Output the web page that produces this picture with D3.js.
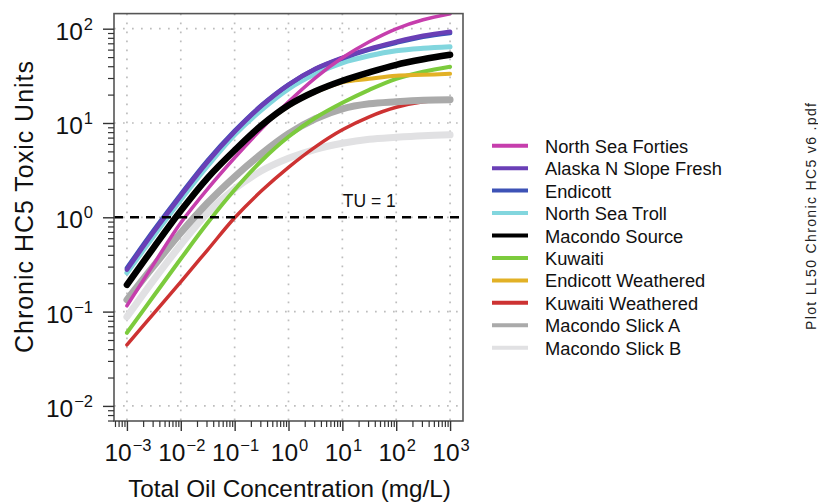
<!DOCTYPE html>
<html>
<head>
<meta charset="utf-8">
<script src="https://cdn.jsdelivr.net/npm/d3@7"></script>
<style>
  html, body { margin: 0; padding: 0; background: #fff; }
  svg { display: block; font-family: "Liberation Sans", Arial, Helvetica, sans-serif; }
</style>
</head>
<body>
<svg id="chart" width="818" height="504"></svg>
<script>
// ---------- data ----------
const conc = [0.001, 0.00316, 0.01, 0.0316, 0.1, 0.316, 1, 3.16, 10, 31.6, 100, 316, 1000];

const seriesNames = ["North Sea Forties", "Alaska N Slope Fresh", "Endicott", "North Sea Troll",
  "Macondo Source", "Kuwaiti", "Endicott Weathered", "Kuwaiti Weathered", "Macondo Slick A", "Macondo Slick B"];

const northSeaForties   = [0.1152, 0.321, 0.874, 2.006, 4.28, 8.68, 16.78, 30.15, 49.1, 72.6, 99.7, 124.3, 143.9];
const alaskaNSlopeFresh = [0.278, 0.702, 1.69, 3.88, 8.07, 15.22, 25.42, 37.56, 49.13, 61.2, 72.6, 84.1, 92.7];
const endicott          = [0.29, 0.73, 1.75, 4.0, 8.25, 15.4, 25.5, 37.3, 48.5, 60.0, 71.0, 82.0, 90.0];
const northSeaTroll     = [0.258, 0.637, 1.535, 3.52, 7.5, 13.8, 23.05, 33.25, 43.5, 51.6, 58.3, 62.0, 64.3];
const macondoSource     = [0.1924, 0.4807, 1.172, 2.623, 5.135, 9.45, 15.41, 21.69, 28.03, 34.48, 41.42, 47.37, 52.88];
const kuwaiti           = [0.0596, 0.1471, 0.363, 0.874, 1.957, 3.973, 7.14, 11.35, 16.38, 22.49, 29.42, 34.9, 39.45];
const endicottWeathered = [0.1877, 0.469, 1.144, 2.56, 5.01, 9.23, 15.03, 21.17, 27.02, 29.4, 31.67, 32.45, 33.25];
const kuwaitiWeathered  = [0.04446, 0.0959, 0.207, 0.452, 0.988, 1.91, 3.39, 5.59, 8.47, 11.63, 14.67, 16.78, 17.62];
const macondoSlickA     = [0.1334, 0.306, 0.685, 1.425, 2.689, 4.715, 7.685, 11.08, 14.15, 15.98, 16.78, 17.4, 17.62];
const macondoSlickB     = [0.0881, 0.2174, 0.511, 1.116, 2.006, 3.112, 4.224, 5.26, 6.09, 6.72, 7.05, 7.32, 7.5];

const seriesValues = [northSeaForties, alaskaNSlopeFresh, endicott, northSeaTroll, macondoSource,
  kuwaiti, endicottWeathered, kuwaitiWeathered, macondoSlickA, macondoSlickB];

const xTickExps = [-3, -2, -1, 0, 1, 2, 3];
const yTickExps = [-2, -1, 0, 1, 2];
const tuLevel = 1;
const tuLabel = "TU = 1";
const xTitle = "Total Oil Concentration (mg/L)";
const yTitle = "Chronic HC5 Toxic Units";
const sideNote = "Plot  LL50  Chronic  HC5  v6  .pdf";

// ---------- styles ----------
const colors = ["#c63ead", "#6a3fb6", "#3d52b6", "#82d6de", "#000000",
  "#7ccb3d", "#e2b126", "#cd3232", "#aaaaaa", "#e1e1e3"];
const widths = [3.5, 4.5, 4.5, 5, 6.5, 4, 4, 3.5, 7, 7];
const drawOrder = [9, 7, 8, 5, 6, 3, 2, 1, 0, 4];

// ---------- layout ----------
const L = 114, R = 463, T = 13.6, B = 421;
const svg = d3.select("#chart");

const x = d3.scaleLog().domain([Math.pow(10, -3.24), Math.pow(10, 3.24)]).range([L, R]);
const y = d3.scaleLog().domain([Math.pow(10, -2.16), Math.pow(10, 2.16)]).range([B, T]);

svg.append("defs").append("clipPath").attr("id", "clip")
  .append("rect").attr("x", L).attr("y", T).attr("width", R - L).attr("height", B - T);

// grid
const grid = svg.append("g").attr("stroke", "#bdbdbd").attr("stroke-width", 1.7)
  .attr("stroke-dasharray", "1.7,7.3").attr("stroke-linecap", "butt");
xTickExps.forEach(e => {
  grid.append("line").attr("x1", x(Math.pow(10, e))).attr("x2", x(Math.pow(10, e)))
    .attr("y1", T).attr("y2", B);
});
yTickExps.forEach(e => {
  grid.append("line").attr("y1", y(Math.pow(10, e))).attr("y2", y(Math.pow(10, e)))
    .attr("x1", L).attr("x2", R);
});

// curves
const line = d3.line().x(d => x(d[0])).y(d => y(d[1])).curve(d3.curveCatmullRom.alpha(0.5));
const curves = svg.append("g").attr("clip-path", "url(#clip)");
drawOrder.forEach(i => {
  const pts = conc.map((c, k) => [c, seriesValues[i][k]]);
  curves.append("path").datum(pts).attr("d", line)
    .attr("fill", "none").attr("stroke", colors[i]).attr("stroke-width", widths[i])
    .attr("stroke-linecap", "round").attr("stroke-linejoin", "round");
});

// TU = 1 line
svg.append("line").attr("x1", L).attr("x2", R).attr("y1", y(tuLevel)).attr("y2", y(tuLevel))
  .attr("stroke", "#000").attr("stroke-width", 2.6).attr("stroke-dasharray", "9,7");
svg.append("text").attr("x", x(Math.pow(10, 1.5))).attr("y", y(tuLevel) - 10)
  .attr("text-anchor", "middle").attr("font-size", 17.5).attr("fill", "#111").text(tuLabel);

// box
svg.append("rect").attr("x", L).attr("y", T).attr("width", R - L).attr("height", B - T)
  .attr("fill", "none").attr("stroke", "#555").attr("stroke-width", 1.6);

// x axis
const xAxis = d3.axisBottom(x)
  .tickValues(xTickExps.map(e => Math.pow(10, e))).tickSize(10).tickFormat("");
const gx = svg.append("g").attr("transform", `translate(0,${B})`).call(xAxis);
gx.select(".domain").remove();
gx.selectAll("line").attr("stroke", "#333").attr("stroke-width", 1.4);
const xMinor = [];
for (let e = -4; e <= 3; e++) for (let m = 2; m <= 9; m++) {
  const v = m * Math.pow(10, e);
  if (v >= x.domain()[0] && v <= x.domain()[1]) xMinor.push(v);
}
const gxm = svg.append("g").attr("transform", `translate(0,${B})`)
  .call(d3.axisBottom(x).tickValues(xMinor).tickSize(6).tickFormat(""));
gxm.select(".domain").remove();
gxm.selectAll("line").attr("stroke", "#333").attr("stroke-width", 1.2);

xTickExps.forEach(e => {
  const t = svg.append("text").attr("x", x(Math.pow(10, e)) + 1).attr("y", 461)
    .attr("text-anchor", "middle").attr("font-size", 24.5).attr("fill", "#111");
  t.append("tspan").text("10");
  t.append("tspan").attr("font-size", 16.5).attr("dx", 1).attr("dy", -10)
    .text(e < 0 ? "\u2212" + Math.abs(e) : String(e));
});

// y axis
const yAxis = d3.axisLeft(y)
  .tickValues(yTickExps.map(e => Math.pow(10, e))).tickSize(11).tickFormat("");
const gy = svg.append("g").attr("transform", `translate(${L},0)`).call(yAxis);
gy.select(".domain").remove();
gy.selectAll("line").attr("stroke", "#333").attr("stroke-width", 1.4);
const yMinor = [];
for (let e = -3; e <= 2; e++) for (let m = 2; m <= 9; m++) {
  const v = m * Math.pow(10, e);
  if (v >= y.domain()[0] && v <= y.domain()[1]) yMinor.push(v);
}
const gym = svg.append("g").attr("transform", `translate(${L},0)`)
  .call(d3.axisLeft(y).tickValues(yMinor).tickSize(6).tickFormat(""));
gym.select(".domain").remove();
gym.selectAll("line").attr("stroke", "#333").attr("stroke-width", 1.2);

yTickExps.forEach(e => {
  const t = svg.append("text").attr("x", 93).attr("y", y(Math.pow(10, e)) + 11)
    .attr("text-anchor", "end").attr("font-size", 24.5).attr("fill", "#111");
  t.append("tspan").text("10");
  t.append("tspan").attr("font-size", 16.5).attr("dx", 1).attr("dy", -10)
    .text(e < 0 ? "\u2212" + Math.abs(e) : String(e));
});

// axis titles
svg.append("text").attr("x", (L + R) / 2 + 1).attr("y", 497).attr("text-anchor", "middle")
  .attr("font-size", 24.3).attr("fill", "#111").text(xTitle);
svg.append("text").attr("transform", "translate(33,207) rotate(-90)").attr("text-anchor", "middle")
  .attr("font-size", 25).attr("fill", "#111").attr("textLength", 292).attr("lengthAdjust", "spacing")
  .text(yTitle);

// legend
const leg = svg.append("g");
seriesNames.forEach((name, i) => {
  const ry = 145.7 + i * 22.45;
  leg.append("line").attr("x1", 492).attr("x2", 528).attr("y1", ry).attr("y2", ry)
    .attr("stroke", colors[i]).attr("stroke-width", 4);
  leg.append("text").attr("x", 545).attr("y", ry + 7).attr("font-size", 18.3)
    .attr("fill", "#111").text(name);
});

// side note
svg.append("text").attr("transform", "translate(816,216.5) rotate(-90)").attr("text-anchor", "middle")
  .attr("font-size", 14).attr("fill", "#222").attr("textLength", 227).attr("lengthAdjust", "spacing")
  .text(sideNote);
</script>
</body>
</html>
